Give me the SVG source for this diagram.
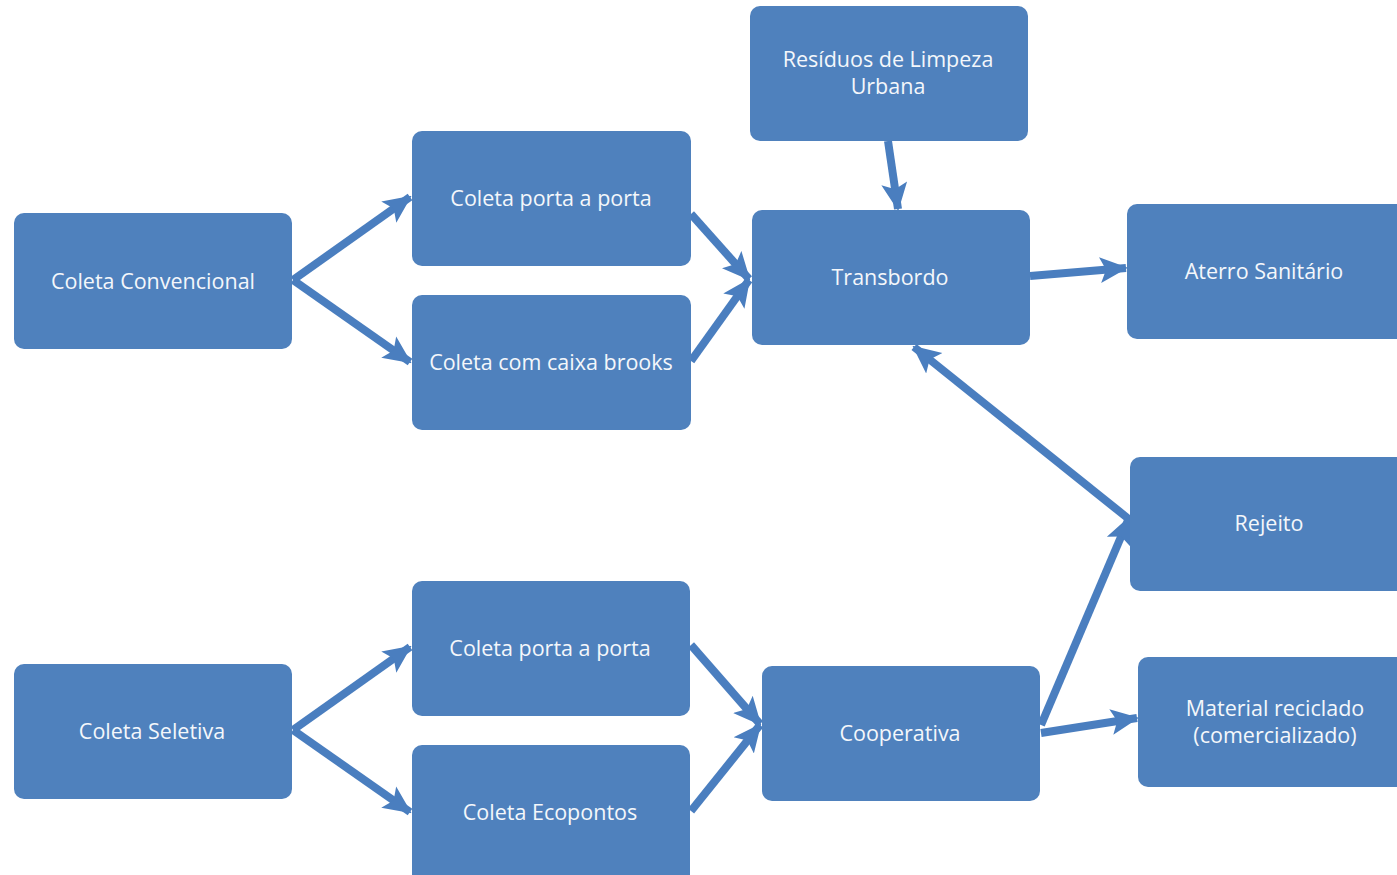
<svg xmlns="http://www.w3.org/2000/svg" width="1397" height="875" viewBox="0 0 1397 875">
  <style>
    .box { fill: #4F81BD; }
    .lbl { fill: #F4F7FB; font-family: "Open Sans", "Noto Sans", sans-serif; font-size: 21.5px; text-anchor: middle; dominant-baseline: central; }
    .edge { stroke: #4A7EBF; stroke-width: 8; fill: none; marker-end: url(#arrow); }
  </style>
  <defs>
    <marker id="arrow" markerUnits="userSpaceOnUse" markerWidth="28" markerHeight="28" viewBox="0 0 28 28" refX="26" refY="14" orient="auto">
      <path d="M0,1 L28,14 L0,27 L6,14 Z" fill="#4A7EBF"/>
    </marker>
  </defs>
  <rect width="1397" height="875" fill="#FFFFFF"/>

  <!-- connectors -->
  <g id="connectors">
    <line class="edge" x1="293" y1="280" x2="410" y2="197"/>
    <line class="edge" x1="293" y1="280" x2="410" y2="362"/>
    <line class="edge" x1="691" y1="214" x2="749" y2="279"/>
    <line class="edge" x1="691" y1="361" x2="749" y2="280"/>
    <line class="edge" x1="888" y1="141" x2="898" y2="209"/>
    <line class="edge" x1="1030" y1="276" x2="1126" y2="268"/>
    <line class="edge" x1="1130" y1="520" x2="914" y2="347"/>
    <line class="edge" x1="1041" y1="725" x2="1129" y2="518"/>
    <line class="edge" x1="1041" y1="733" x2="1137" y2="718"/>
    <line class="edge" x1="293" y1="730" x2="410" y2="647"/>
    <line class="edge" x1="293" y1="730" x2="410" y2="812"/>
    <line class="edge" x1="691" y1="645" x2="760" y2="724"/>
    <line class="edge" x1="691" y1="811" x2="760" y2="725"/>
  </g>

  <g id="coleta-convencional">
    <rect class="box" x="14" y="213" width="278" height="136" rx="10"/>
    <text class="lbl" x="153" y="280">Coleta Convencional</text>
  </g>
  <g id="porta-a-porta-1">
    <rect class="box" x="412" y="131" width="279" height="135" rx="10"/>
    <text class="lbl" x="551" y="197">Coleta porta a porta</text>
  </g>
  <g id="caixa-brooks">
    <rect class="box" x="412" y="295" width="279" height="135" rx="10"/>
    <text class="lbl" x="551" y="361">Coleta com caixa brooks</text>
  </g>
  <g id="residuos-limpeza">
    <rect class="box" x="750" y="6" width="278" height="135" rx="10"/>
    <text class="lbl" x="888" y="58">Resíduos de Limpeza</text>
    <text class="lbl" x="888" y="85">Urbana</text>
  </g>
  <g id="transbordo">
    <rect class="box" x="752" y="210" width="278" height="135" rx="10"/>
    <text class="lbl" x="890" y="276">Transbordo</text>
  </g>
  <g id="aterro">
    <rect class="box" x="1127" y="204" width="285" height="135" rx="10"/>
    <text class="lbl" x="1264" y="270">Aterro Sanitário</text>
  </g>
  <g id="rejeito">
    <rect class="box" x="1130" y="457" width="282" height="134" rx="10"/>
    <text class="lbl" x="1269" y="522">Rejeito</text>
  </g>
  <g id="material-reciclado">
    <rect class="box" x="1138" y="657" width="274" height="130" rx="10"/>
    <text class="lbl" x="1275" y="707">Material reciclado</text>
    <text class="lbl" x="1275" y="734">(comercializado)</text>
  </g>
  <g id="coleta-seletiva">
    <rect class="box" x="14" y="664" width="278" height="135" rx="10"/>
    <text class="lbl" x="152" y="730">Coleta Seletiva</text>
  </g>
  <g id="porta-a-porta-2">
    <rect class="box" x="412" y="581" width="278" height="135" rx="10"/>
    <text class="lbl" x="550" y="647">Coleta porta a porta</text>
  </g>
  <g id="ecopontos">
    <rect class="box" x="412" y="745" width="278" height="145" rx="10"/>
    <text class="lbl" x="550" y="811">Coleta Ecopontos</text>
  </g>
  <g id="cooperativa">
    <rect class="box" x="762" y="666" width="278" height="135" rx="10"/>
    <text class="lbl" x="900" y="732">Cooperativa</text>
  </g>
</svg>
